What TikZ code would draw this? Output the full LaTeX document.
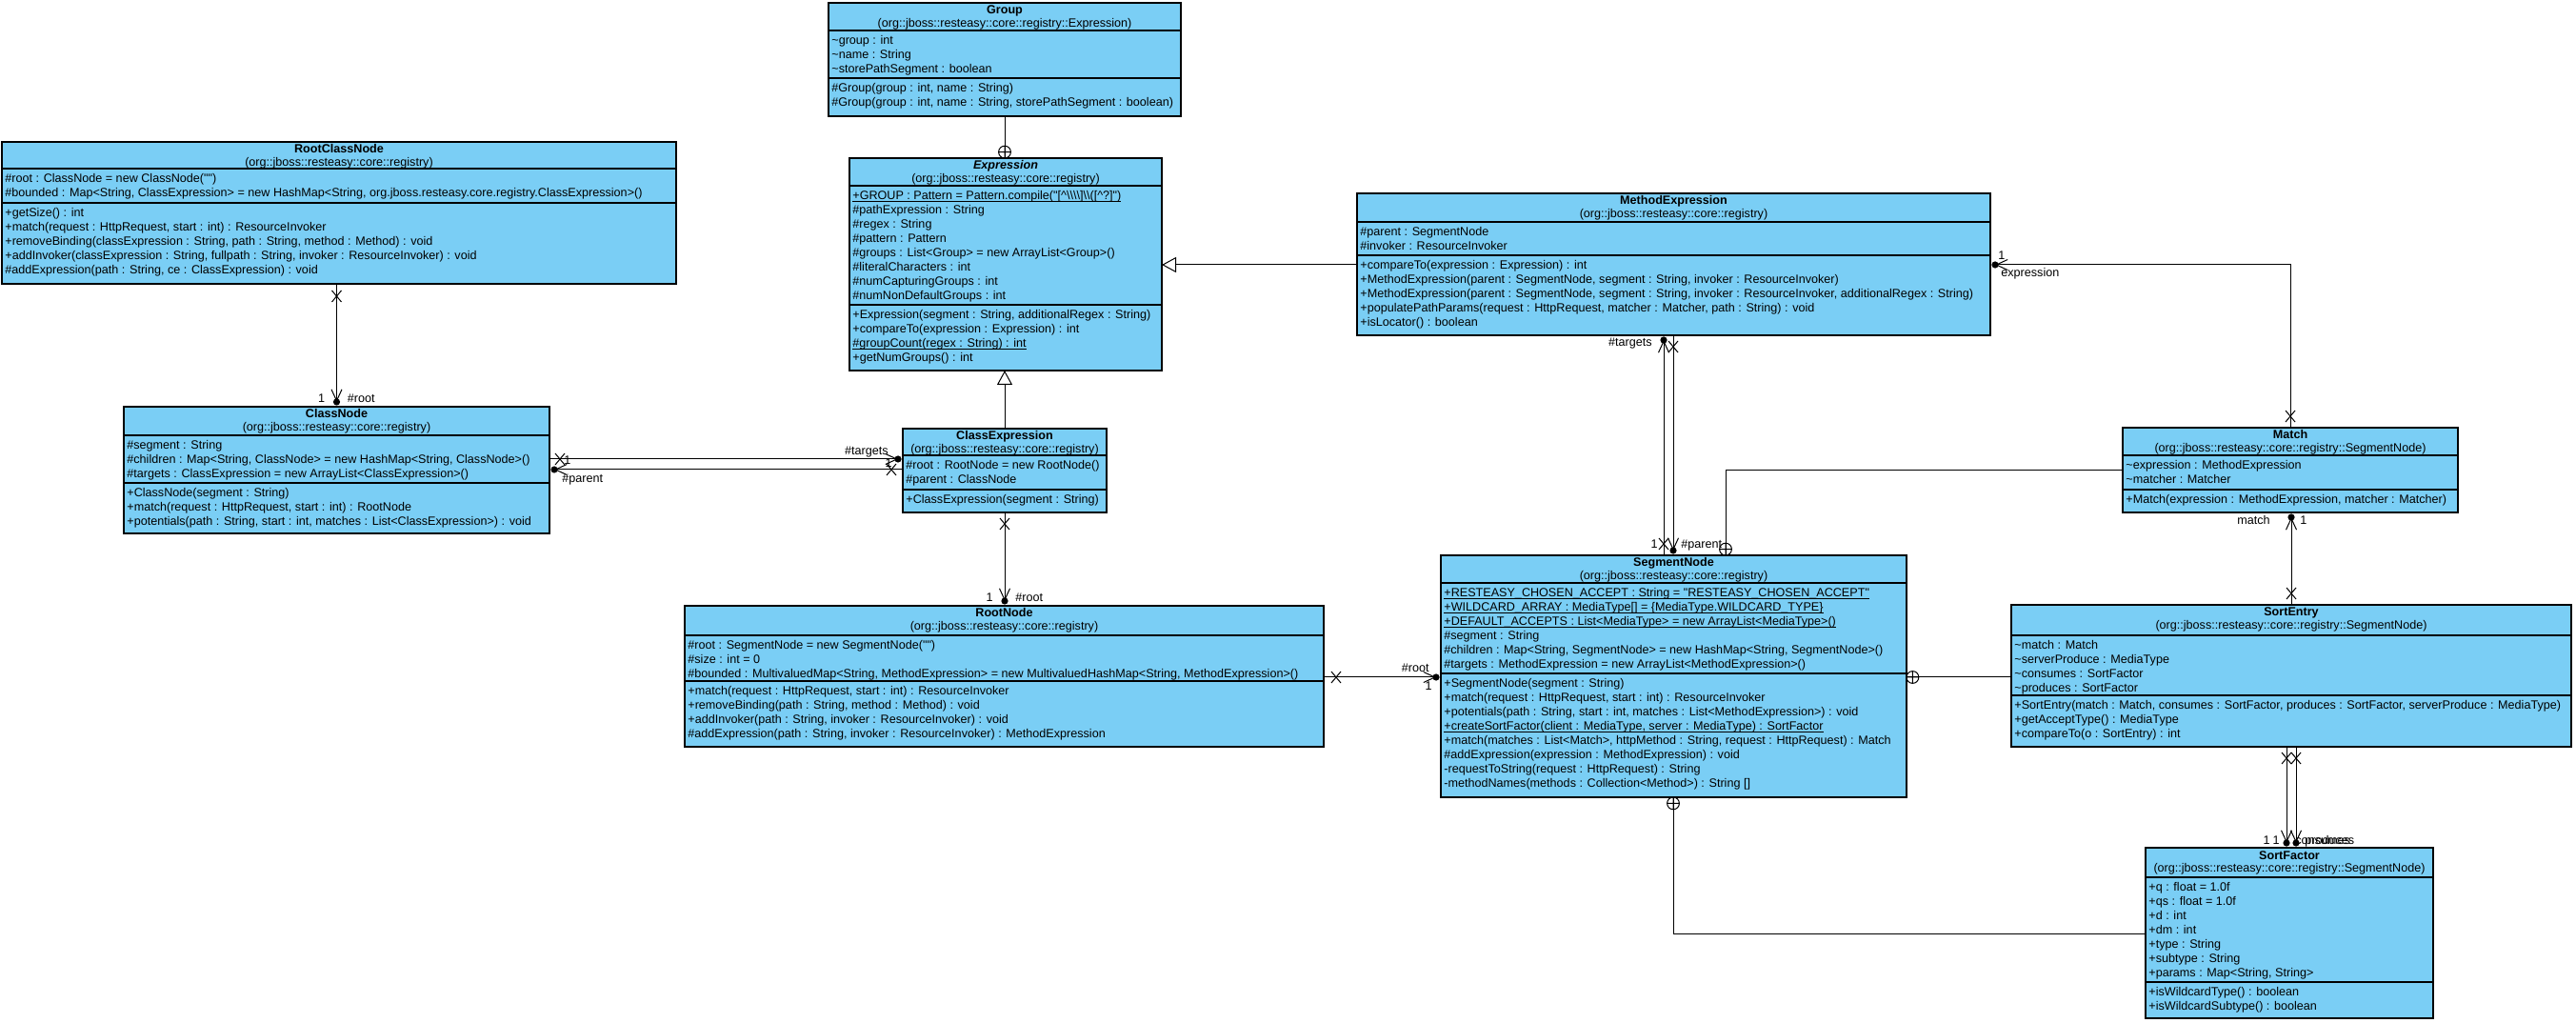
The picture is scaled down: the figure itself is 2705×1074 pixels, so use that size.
\documentclass[tikz,border=0pt]{standalone}
\usepackage{fontspec}
\newfontfamily\umlfont{Liberation Sans}
\usetikzlibrary{arrows.meta,calc}
\definecolor{clsfill}{RGB}{122,206,245}
\tikzset{
  clsbox/.style={draw=black,fill=clsfill,line width=0.7pt,inner sep=0pt,outer sep=0pt},
  hdr/.style={anchor=base,inner sep=0pt},
  mem/.style={anchor=base west,inner sep=0pt},
  lbl/.style={inner sep=0pt},
  sepline/.style={line width=0.7pt},
  assoc/.style={draw=black,line width=0.5pt},
  nav/.style={-{Straight Barb[length=6pt,width=5.5pt]}},
  gen/.style={-{Triangle[open,length=7.5pt,width=8pt]}},
  xmark/.pic={\draw[line width=0.5pt] (-5,-6)--(5,6) (-5,6)--(5,-6);},
  nestmark/.pic={\draw[line width=0.5pt] (0,0) circle[radius=3.2pt] (-6.4,0)--(6.4,0) (0,-6.4)--(0,6.4);},
  every node/.style={font=\umlfont\fontsize{6.3}{7.5}\selectfont}
}
\newcommand\ulx[1]{\sbox0{#1}\rlap{\rule[-1.3pt]{\wd0}{0.45pt}}\usebox0}
\newcommand\umlbox[5]{\node[clsbox,anchor=north west,minimum width={(#4-#2)*0.5pt},minimum height={(#5-#3)*0.5pt}] (#1) at (#2,#3) {};}
\newcommand\umlhead[3]{%
  \node[hdr] (#1-title) at ($(#1.north)+(0,12)$) {\bfseries #2};
  \node[hdr] (#1-pkg) at ($(#1.north)+(0,25.5)$) {#3};}
\newcommand\umlsep[2]{\draw[sepline] ($(#1.north west)+(0,#2)$) -- ($(#1.north east)+(0,#2)$);}
\newcommand\umlmem[4]{\node[mem] (#1-#2) at ($(#1.north west)+(3,#3)$) {\begin{tabular}[t]{@{}l@{}}#4\end{tabular}};}
\begin{document}
\begin{tikzpicture}[x=0.5pt,y=-0.5pt]
\fill[white] (0,0) rectangle (2705,1074);
\useasboundingbox (0,0) rectangle (2705,1074);

% ---------- Group
\umlbox{group}{870}{3}{1240}{122}
\umlhead{group}{Group}{(org::jboss::resteasy::core::registry::Expression)}
\umlsep{group}{29}\umlsep{group}{79}
\umlmem{group}{attrs}{43.5}{\textasciitilde group : int\\ \textasciitilde name : String\\ \textasciitilde storePathSegment : boolean}
\umlmem{group}{ops}{93.5}{\#Group(group : int, name : String)\\ \#Group(group : int, name : String, storePathSegment : boolean)}

% ---------- RootClassNode
\umlbox{rootclassnode}{2}{149}{710}{298}
\umlhead{rootclassnode}{RootClassNode}{(org::jboss::resteasy::core::registry)}
\umlsep{rootclassnode}{28}\umlsep{rootclassnode}{64}
\umlmem{rootclassnode}{attrs}{42.5}{\#root : ClassNode = new ClassNode("")\\ \#bounded : Map<String, ClassExpression> = new HashMap<String, org.jboss.resteasy.core.registry.ClassExpression>()}
\umlmem{rootclassnode}{ops}{78.5}{+getSize() : int\\ +match(request : HttpRequest, start : int) : ResourceInvoker\\ +removeBinding(classExpression : String, path : String, method : Method) : void\\ +addInvoker(classExpression : String, fullpath : String, invoker : ResourceInvoker) : void\\ \#addExpression(path : String, ce : ClassExpression) : void}

% ---------- Expression
\umlbox{expression}{892}{166}{1220}{389}
\umlhead{expression}{\itshape Expression}{(org::jboss::resteasy::core::registry)}
\umlsep{expression}{29}\umlsep{expression}{154}
\umlmem{expression}{attrs}{43.5}{\ulx{+GROUP : Pattern = Pattern.compile("[\textasciicircum\textbackslash\textbackslash\textbackslash\textbackslash]\textbackslash\textbackslash([\textasciicircum?]")}\\ \#pathExpression : String\\ \#regex : String\\ \#pattern : Pattern\\ \#groups : List<Group> = new ArrayList<Group>()\\ \#literalCharacters : int\\ \#numCapturingGroups : int\\ \#numNonDefaultGroups : int}
\umlmem{expression}{ops}{168.5}{+Expression(segment : String, additionalRegex : String)\\ +compareTo(expression : Expression) : int\\ \ulx{\#groupCount(regex : String) : int}\\ +getNumGroups() : int}

% ---------- MethodExpression
\umlbox{methodexpression}{1425}{203}{2090}{352}
\umlhead{methodexpression}{MethodExpression}{(org::jboss::resteasy::core::registry)}
\umlsep{methodexpression}{30}\umlsep{methodexpression}{65}
\umlmem{methodexpression}{attrs}{44.5}{\#parent : SegmentNode\\ \#invoker : ResourceInvoker}
\umlmem{methodexpression}{ops}{79.5}{+compareTo(expression : Expression) : int\\ +MethodExpression(parent : SegmentNode, segment : String, invoker : ResourceInvoker)\\ +MethodExpression(parent : SegmentNode, segment : String, invoker : ResourceInvoker, additionalRegex : String)\\ +populatePathParams(request : HttpRequest, matcher : Matcher, path : String) : void\\ +isLocator() : boolean}

% ---------- ClassNode
\umlbox{classnode}{130}{427}{577}{560}
\umlhead{classnode}{ClassNode}{(org::jboss::resteasy::core::registry)}
\umlsep{classnode}{30}\umlsep{classnode}{80}
\umlmem{classnode}{attrs}{44.5}{\#segment : String\\ \#children : Map<String, ClassNode> = new HashMap<String, ClassNode>()\\ \#targets : ClassExpression = new ArrayList<ClassExpression>()}
\umlmem{classnode}{ops}{94.5}{+ClassNode(segment : String)\\ +match(request : HttpRequest, start : int) : RootNode\\ +potentials(path : String, start : int, matches : List<ClassExpression>) : void}

% ---------- ClassExpression
\umlbox{classexpression}{948}{450}{1162}{538}
\umlhead{classexpression}{ClassExpression}{(org::jboss::resteasy::core::registry)}
\umlsep{classexpression}{28}\umlsep{classexpression}{64}
\umlmem{classexpression}{attrs}{42.5}{\#root : RootNode = new RootNode()\\ \#parent : ClassNode}
\umlmem{classexpression}{ops}{78.5}{+ClassExpression(segment : String)}

% ---------- RootNode
\umlbox{rootnode}{719}{636}{1390}{784}
\umlhead{rootnode}{RootNode}{(org::jboss::resteasy::core::registry)}
\umlsep{rootnode}{31}\umlsep{rootnode}{79}
\umlmem{rootnode}{attrs}{45.5}{\#root : SegmentNode = new SegmentNode("")\\ \#size : int = 0\\ \#bounded : MultivaluedMap<String, MethodExpression> = new MultivaluedHashMap<String, MethodExpression>()}
\umlmem{rootnode}{ops}{93.5}{+match(request : HttpRequest, start : int) : ResourceInvoker\\ +removeBinding(path : String, method : Method) : void\\ +addInvoker(path : String, invoker : ResourceInvoker) : void\\ \#addExpression(path : String, invoker : ResourceInvoker) : MethodExpression}

% ---------- SegmentNode
\umlbox{segmentnode}{1513}{583}{2002}{837}
\umlhead{segmentnode}{SegmentNode}{(org::jboss::resteasy::core::registry)}
\umlsep{segmentnode}{29}\umlsep{segmentnode}{124}
\umlmem{segmentnode}{attrs}{43.5}{\ulx{+RESTEASY\_CHOSEN\_ACCEPT : String = "RESTEASY\_CHOSEN\_ACCEPT"}\\ \ulx{+WILDCARD\_ARRAY : MediaType[] = \{MediaType.WILDCARD\_TYPE\}}\\ \ulx{+DEFAULT\_ACCEPTS : List<MediaType> = new ArrayList<MediaType>()}\\ \#segment : String\\ \#children : Map<String, SegmentNode> = new HashMap<String, SegmentNode>()\\ \#targets : MethodExpression = new ArrayList<MethodExpression>()}
\umlmem{segmentnode}{ops}{138.5}{+SegmentNode(segment : String)\\ +match(request : HttpRequest, start : int) : ResourceInvoker\\ +potentials(path : String, start : int, matches : List<MethodExpression>) : void\\ \ulx{+createSortFactor(client : MediaType, server : MediaType) : SortFactor}\\ +match(matches : List<Match>, httpMethod : String, request : HttpRequest) : Match\\ \#addExpression(expression : MethodExpression) : void\\ -requestToString(request : HttpRequest) : String\\ -methodNames(methods : Collection<Method>) : String []}

% ---------- Match
\umlbox{match}{2229}{449}{2581}{538}
\umlhead{match}{Match}{(org::jboss::resteasy::core::registry::SegmentNode)}
\umlsep{match}{29}\umlsep{match}{65}
\umlmem{match}{attrs}{43.5}{\textasciitilde expression : MethodExpression\\ \textasciitilde matcher : Matcher}
\umlmem{match}{ops}{79.5}{+Match(expression : MethodExpression, matcher : Matcher)}

% ---------- SortEntry
\umlbox{sortentry}{2112}{635}{2700}{784}
\umlhead{sortentry}{SortEntry}{(org::jboss::resteasy::core::registry::SegmentNode)}
\umlsep{sortentry}{32}\umlsep{sortentry}{95}
\umlmem{sortentry}{attrs}{46.5}{\textasciitilde match : Match\\ \textasciitilde serverProduce : MediaType\\ \textasciitilde consumes : SortFactor\\ \textasciitilde produces : SortFactor}
\umlmem{sortentry}{ops}{109.5}{+SortEntry(match : Match, consumes : SortFactor, produces : SortFactor, serverProduce : MediaType)\\ +getAcceptType() : MediaType\\ +compareTo(o : SortEntry) : int}

% ---------- SortFactor
\umlbox{sortfactor}{2253}{890}{2555}{1069}
\umlhead{sortfactor}{SortFactor}{(org::jboss::resteasy::core::registry::SegmentNode)}
\umlsep{sortfactor}{31}\umlsep{sortfactor}{141}
\umlmem{sortfactor}{attrs}{45.5}{+q : float = 1.0f\\ +qs : float = 1.0f\\ +d : int\\ +dm : int\\ +type : String\\ +subtype : String\\ +params : Map<String, String>}
\umlmem{sortfactor}{ops}{155.5}{+isWildcardType() : boolean\\ +isWildcardSubtype() : boolean}

% ================= connectors
% Group nested in Expression
\coordinate (c1a) at (group.south);
\coordinate (c1b) at (group.south |- expression.north);
\draw[assoc] (c1a) -- (c1b);
\pic at ($(c1b)+(0,-6.4)$) {nestmark};

% RootClassNode -> ClassNode (#root)
\coordinate (c2a) at (classnode.north |- rootclassnode.south);
\coordinate (c2b) at ($(classnode.north)+(0,-5)$);
\draw[assoc,nav] (c2a) -- (c2b);
\fill (c2b) circle[radius=1.8pt];
\pic at ($(c2a)+(0,13)$) {xmark};
\node[lbl,anchor=base east] (l2a) at ($(c2b)+(-12,1)$) {1};
\node[lbl,anchor=base west] (l2b) at ($(c2b)+(11,1)$) {\#root};

% ClassNode -> ClassExpression (#targets)
\coordinate (c3a) at ($(classnode.north east)+(0,55)$);
\coordinate (c3b) at ($(c3a -| classexpression.west)+(-5,0)$);
\draw[assoc,nav] (c3a) -- (c3b);
\fill (c3b) circle[radius=1.8pt];
\pic at ($(c3a)+(11,0)$) {xmark};
\node[lbl,anchor=base west] (l3a) at ($(c3a)+(15,6)$) {1};
\node[lbl,anchor=base east] (l3b) at ($(c3b)+(-10,-4)$) {\#targets};

% ClassExpression -> ClassNode (#parent)
\coordinate (c3c) at ($(classexpression.north west)+(0,43)$);
\coordinate (c3d) at ($(c3c -| classnode.east)+(5,0)$);
\draw[assoc,nav] (c3c) -- (c3d);
\fill (c3d) circle[radius=1.8pt];
\pic at ($(c3c)+(-12,0)$) {xmark};
\node[lbl,anchor=base east] (l3c) at ($(c3c)+(-11,-2)$) {1};
\node[lbl,anchor=base west] (l3d) at ($(c3d)+(8,14)$) {\#parent};

% generalizations
\draw[assoc,gen] (classexpression.north) -- (classexpression.north |- expression.south);
\coordinate (c5a) at ($(methodexpression.north west)+(0,75)$);
\draw[assoc,gen] (c5a) -- (c5a -| expression.east);

% ClassExpression -> RootNode (#root)
\coordinate (c6a) at (classexpression.south);
\coordinate (c6b) at ($(c6a |- rootnode.north)+(0,-5)$);
\draw[assoc,nav] (c6a) -- (c6b);
\fill (c6b) circle[radius=1.8pt];
\pic at ($(c6a)+(0,12)$) {xmark};
\node[lbl,anchor=base east] (l6a) at ($(c6b)+(-12,1)$) {1};
\node[lbl,anchor=base west] (l6b) at ($(c6b)+(11,1)$) {\#root};

% RootNode -> SegmentNode (#root)
\coordinate (c7a) at ($(rootnode.north east)+(0,75)$);
\coordinate (c7b) at ($(c7a -| segmentnode.west)+(-5,0)$);
\draw[assoc,nav] (c7a) -- (c7b);
\fill (c7b) circle[radius=1.8pt];
\pic at ($(c7a)+(13,0)$) {xmark};
\node[lbl,anchor=base east] (l7a) at ($(c7b)+(-7,-6)$) {\#root};
\node[lbl,anchor=base east] (l7b) at ($(c7b)+(-4,14)$) {1};

% SegmentNode -> MethodExpression (#targets)
\coordinate (c8a) at ($(segmentnode.north west)+(234,0)$);
\coordinate (c8b) at ($(c8a |- methodexpression.south)+(0,5)$);
\draw[assoc,nav] (c8a) -- (c8b);
\fill (c8b) circle[radius=1.8pt];
\pic at ($(c8a)+(0,-12)$) {xmark};
\node[lbl,anchor=base east] (l8a) at ($(c8a)+(-6,-7)$) {1};
\node[lbl,anchor=base east] (l8b) at ($(c8b)+(-12,7)$) {\#targets};

% MethodExpression -> SegmentNode (#parent)
\coordinate (c8c) at ($(methodexpression.south west)+(332,0)$);
\coordinate (c8d) at ($(c8c |- segmentnode.north)+(0,-5)$);
\draw[assoc,nav] (c8c) -- (c8d);
\fill (c8d) circle[radius=1.8pt];
\pic at ($(c8c)+(0,12)$) {xmark};
\node[lbl,anchor=base west] (l8c) at ($(c8d)+(8,-2)$) {\#parent};

% Match -> MethodExpression (expression)
\coordinate (c9a) at (match.north);
\coordinate (c9b) at ($(methodexpression.north east)+(5,75)$);
\draw[assoc,nav] (c9a) |- (c9b);
\fill (c9b) circle[radius=1.8pt];
\pic at ($(c9a)+(0,-12)$) {xmark};
\node[lbl,anchor=base west] (l9a) at ($(c9b)+(3,-5)$) {1};
\node[lbl,anchor=base west] (l9b) at ($(c9b)+(6,13)$) {expression};

% Match nested in SegmentNode
\coordinate (c10a) at ($(match.north west)+(0,45)$);
\coordinate (c10b) at ($(segmentnode.north west)+(299,0)$);
\draw[assoc] (c10a) -| (c10b);
\pic at ($(c10b)+(0,-6.4)$) {nestmark};

% SortEntry -> Match (match)
\coordinate (c11a) at (sortentry.north);
\coordinate (c11b) at ($(c11a |- match.south)+(0,5)$);
\draw[assoc,nav] (c11a) -- (c11b);
\fill (c11b) circle[radius=1.8pt];
\pic at ($(c11a)+(0,-12)$) {xmark};
\node[lbl,anchor=base east] (l11a) at ($(c11b)+(-22,8)$) {match};
\node[lbl,anchor=base west] (l11b) at ($(c11b)+(9,8)$) {1};

% SortEntry nested in SegmentNode
\coordinate (c12a) at ($(sortentry.north west)+(0,76)$);
\coordinate (c12b) at (c12a -| segmentnode.east);
\draw[assoc] (c12a) -- (c12b);
\pic at ($(c12b)+(6.4,0)$) {nestmark};

% SortEntry -> SortFactor (consumes, produces)
\coordinate (c13a) at ($(sortentry.south)+(-5,0)$);
\coordinate (c13b) at ($(c13a |- sortfactor.north)+(0,-5)$);
\coordinate (c13c) at ($(sortentry.south)+(5,0)$);
\coordinate (c13d) at ($(c13c |- sortfactor.north)+(0,-5)$);
\draw[assoc,nav] (c13a) -- (c13b);
\draw[assoc,nav] (c13c) -- (c13d);
\fill (c13b) circle[radius=1.8pt];
\fill (c13d) circle[radius=1.8pt];
\pic at ($(c13a)+(0,12)$) {xmark};
\pic at ($(c13c)+(0,12)$) {xmark};
\node[lbl,anchor=base east] (l13a) at ($(c13b)+(-17,1)$) {1};
\node[lbl,anchor=base east] (l13b) at ($(c13b)+(-7,1)$) {1};
\node[lbl,anchor=base west] (l13c) at ($(c13b)+(9,1)$) {consumes};
\node[lbl,anchor=base west] (l13d) at ($(c13d)+(9,1)$) {produces};

% SortFactor nested in SegmentNode
\coordinate (c14a) at ($(sortfactor.north west)+(0,90)$);
\coordinate (c14b) at ($(segmentnode.south west)+(244,0)$);
\draw[assoc] (c14a) -| (c14b);
\pic at ($(c14b)+(0,6.4)$) {nestmark};
\end{tikzpicture}
\end{document}
